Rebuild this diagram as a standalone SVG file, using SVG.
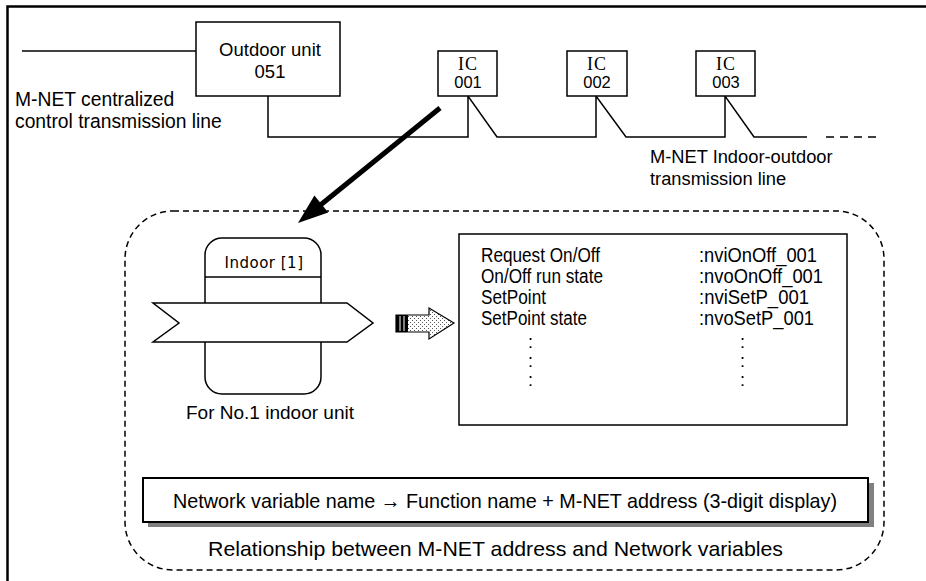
<svg xmlns="http://www.w3.org/2000/svg" width="926" height="581" viewBox="0 0 926 581">
<style>
.ln{fill:none;stroke:#000;stroke-width:1.5}
.bx{fill:#fff;stroke:#000;stroke-width:1.5}
.t{font-family:"Liberation Sans",Arial,sans-serif;fill:#000}
.s{font-family:"Liberation Serif","Times New Roman",serif;fill:#000}
.d{font-family:"DejaVu Sans",sans-serif;fill:#000}
</style>
<defs>
<pattern id="dots" width="4" height="4" patternUnits="userSpaceOnUse">
<rect width="4" height="4" fill="#fff"/>
<rect x="0" y="0" width="1" height="1" fill="#555"/>
<rect x="2" y="2" width="1" height="1" fill="#555"/>
</pattern>
</defs>
<rect width="926" height="581" fill="#fff"/>
<path d="M7.5,581 V6.5 H926" fill="none" stroke="#000" stroke-width="2.5"/>

<g id="connectors">
<path class="ln" d="M22,51 H196"/>
<path class="ln" d="M268,96 V137 H468 V96 L497,137 H596 V96 L626,137 H725 V96 L754,137 H807"/>
<path class="ln" d="M826,137 H880" stroke-dasharray="8,6"/>
<line x1="440" y1="108" x2="318" y2="207" stroke="#000" stroke-width="5"/>
<polygon points="298,223 314.4,195.6 328.2,212.6" fill="#000"/>
</g>

<g id="outdoor-unit">
<rect class="bx" x="196" y="22" width="144" height="74"/>
<text class="t" x="270" y="56" font-size="18.5" text-anchor="middle">Outdoor unit</text>
<text class="t" x="270" y="78" font-size="18.5" text-anchor="middle">051</text>
</g>

<g id="label-central">
<text class="t" x="15" y="106" font-size="19.3">M-NET centralized</text>
<text class="t" x="15" y="128" font-size="19.3">control transmission line</text>
</g>

<g id="ic001">
<rect class="bx" x="438" y="51" width="59" height="45"/>
<text class="s" x="468" y="70" font-size="18" text-anchor="middle" letter-spacing="1">IC</text>
<text class="t" x="468" y="88" font-size="16.5" text-anchor="middle">001</text>
</g>
<g id="ic002">
<rect class="bx" x="567" y="51" width="60" height="45"/>
<text class="s" x="597" y="70" font-size="18" text-anchor="middle" letter-spacing="1">IC</text>
<text class="t" x="597" y="88" font-size="16.5" text-anchor="middle">002</text>
</g>
<g id="ic003">
<rect class="bx" x="696" y="51" width="59" height="45"/>
<text class="s" x="726" y="70" font-size="18" text-anchor="middle" letter-spacing="1">IC</text>
<text class="t" x="726" y="88" font-size="16.5" text-anchor="middle">003</text>
</g>

<g id="label-indoor-outdoor">
<text class="t" x="650" y="163" font-size="18.3">M-NET Indoor-outdoor</text>
<text class="t" x="650" y="185" font-size="18.3">transmission line</text>
</g>

<g id="relationship-frame">
<rect x="125" y="211" width="759" height="359" rx="48" ry="48" fill="none" stroke="#000" stroke-width="1.5" stroke-dasharray="6,4"/>
<text class="t" x="208" y="556" font-size="21" textLength="575" lengthAdjust="spacingAndGlyphs">Relationship between M-NET address and Network variables</text>
</g>

<g id="indoor-1">
<rect class="bx" x="205" y="238" width="116" height="156" rx="17" ry="17"/>
<line class="ln" x1="205" y1="277" x2="321" y2="277"/>
<text class="d" x="264" y="268" font-size="15" text-anchor="middle" letter-spacing="0.5">Indoor [1]</text>
<polygon class="bx" points="153,303 347,303 373,323 347,342 153,342 179,323"/>
<text class="t" x="186" y="419" font-size="18.5" textLength="168" lengthAdjust="spacingAndGlyphs">For No.1 indoor unit</text>
</g>

<g id="small-arrow">
<polygon points="396,315 429,315 429,308 454,323 429,339 429,332 396,332" fill="url(#dots)" stroke="#000" stroke-width="1.2"/>
<rect x="396" y="315" width="12" height="17" fill="#000"/>
<line x1="400" y1="316" x2="400" y2="331" stroke="#fff" stroke-width="1"/>
<line x1="404" y1="316" x2="404" y2="331" stroke="#fff" stroke-width="1"/>
</g>

<g id="variable-list">
<rect class="bx" x="459" y="234" width="388" height="191" stroke-width="2"/>
<g class="t" font-size="19.5">
<text x="481" y="262" textLength="119" lengthAdjust="spacingAndGlyphs">Request On/Off</text>
<text x="481" y="283" textLength="122" lengthAdjust="spacingAndGlyphs">On/Off run state</text>
<text x="481" y="304" textLength="65" lengthAdjust="spacingAndGlyphs">SetPoint</text>
<text x="481" y="325" textLength="106" lengthAdjust="spacingAndGlyphs">SetPoint state</text>
<text x="699" y="262" textLength="118" lengthAdjust="spacingAndGlyphs">:nviOnOff_001</text>
<text x="699" y="283" textLength="124" lengthAdjust="spacingAndGlyphs">:nvoOnOff_001</text>
<text x="699" y="304" textLength="110" lengthAdjust="spacingAndGlyphs">:nviSetP_001</text>
<text x="699" y="325" textLength="115" lengthAdjust="spacingAndGlyphs">:nvoSetP_001</text>
</g>
<g class="t" font-size="18">
<text x="528" y="348">:</text>
<text x="528" y="367">:</text>
<text x="528" y="386">:</text>
<text x="740" y="348">:</text>
<text x="740" y="367">:</text>
<text x="740" y="386">:</text>
</g>
</g>

<g id="naming-rule">
<rect x="148" y="483" width="726" height="44" fill="#808080"/>
<rect x="143" y="478" width="725" height="44" fill="#fff" stroke="#000" stroke-width="2"/>
<text class="t" x="173" y="508" font-size="21" textLength="664" lengthAdjust="spacingAndGlyphs">Network variable name → Function name + M-NET address (3-digit display)</text>
</g>
</svg>
